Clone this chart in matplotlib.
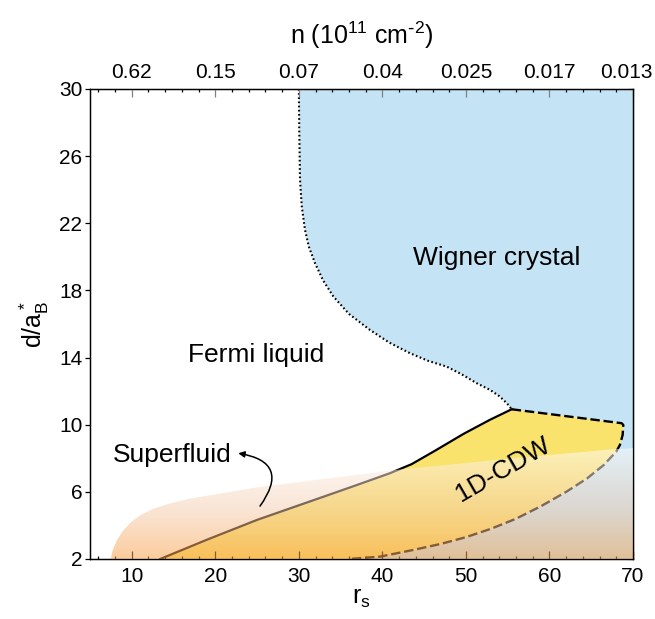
import numpy as np
import matplotlib.pyplot as plt
from matplotlib.patches import Polygon
from matplotlib.ticker import MultipleLocator
from matplotlib.transforms import ScaledTranslation

plt.rcParams['font.family'] = ['Liberation Sans', 'DejaVu Sans']
plt.rcParams['mathtext.default'] = 'regular'

# Fermi liquid / Wigner crystal boundary (dotted), top -> triple point
fw_rs = [30.0, 30.05, 30.14, 30.35, 30.74, 31.2, 31.93, 32.9, 34.13, 36.0, 38.5,
         40.8, 43.3, 45.5, 47.7, 49.5, 51.3, 52.9, 54.0, 54.9, 55.48]
fw_d = [30.0, 27.5, 24.6, 23.0, 21.6, 20.6, 19.63, 18.6, 17.64, 16.6, 15.65,
        14.9, 14.26, 13.8, 13.46, 13.0, 12.47, 12.07, 11.7, 11.28, 10.92]

# Fermi liquid / 1D-CDW boundary (solid), bottom -> triple point
cdw_rs = [13.4, 19.0, 25.0, 33.0, 36.9, 40.9, 43.5, 46.3, 49.7, 52.9, 55.48]
cdw_d = [2.0, 3.15, 4.33, 5.72, 6.4, 7.11, 7.65, 8.45, 9.45, 10.3, 10.92]

# 1D-CDW / Wigner crystal boundary (dashed), triple point -> bottom
wc_rs = [55.48, 68.64, 68.84, 68.76, 68.44, 68.0, 66.5, 64.5, 62.0, 59.0, 56.0,
         53.0, 50.0, 47.0, 43.7, 39.7, 36.0]
wc_d = [10.92, 10.09, 9.99, 9.39, 8.8, 8.4, 7.6, 6.8, 6.0, 5.15, 4.4,
        3.8, 3.3, 2.9, 2.54, 2.14, 2.0]

# upper edge of the superfluid region
sf_rs = [7.5, 7.7, 8.2, 8.9, 9.8, 11.0, 12.5, 14.5, 17.0, 25.0, 40.9, 55.67, 67.6, 70.0]
sf_d = [2.0, 2.5, 3.1, 3.65, 4.15, 4.6, 4.98, 5.3, 5.6, 6.27, 7.27, 8.0, 8.54, 8.6]

top_ticks = [10, 20, 30, 40, 50, 60, 70]
top_labels = ['0.62', '0.15', '0.07', '0.04', '0.025', '0.017', '0.013']

fig = plt.figure(figsize=(6.55, 6.19), dpi=100)
ax = fig.add_axes([90 / 655, 60 / 619, 543 / 655, 470 / 619])

# Wigner crystal
blue_x = fw_rs + wc_rs[1:] + [70, 70]
blue_y = fw_d + wc_d[1:] + [2, 30]
ax.fill(blue_x, blue_y, color='#c4e3f4', lw=0, zorder=1)

# 1D-CDW
cdw_x = cdw_rs + wc_rs[1:]
cdw_y = cdw_d + wc_d[1:]
ax.fill(cdw_x, cdw_y, color='#f9e36c', lw=0, zorder=1)

ax.plot(fw_rs, fw_d, color='k', lw=1.5, ls=(0, (0.8, 1.2)), zorder=2)
ax.plot(cdw_rs, cdw_d, color='k', lw=1.6, zorder=2)
ax.plot(wc_rs, wc_d, color='k', lw=1.7, ls=(0, (4, 1.6)), zorder=2)

# superfluid: translucent vertical gradient on top
ny = 200
yy = np.linspace(2, 8.7, ny)
t = (yy - 2) / (8.7 - 2)
stops = [0, 0.45, 1]
rgba = [(0.98, 0.64, 0.30, 0.55), (0.96, 0.80, 0.68, 0.5), (1, 1, 1, 0.55)]
img = np.zeros((ny, 1, 4))
for k in range(4):
    img[:, 0, k] = np.interp(t, stops, [c[k] for c in rgba])
im = ax.imshow(img, extent=(5, 70, 2, 8.7), origin='lower', aspect='auto',
               interpolation='bilinear', zorder=3)
clip = Polygon(np.column_stack([sf_rs + [70, 7.5], sf_d + [2, 2]]), closed=True,
               transform=ax.transData, fc='none', ec='none')
im.set_clip_path(clip)

fs = 19
ax.text(53.7, 19.95, 'Wigner crystal', fontsize=fs, ha='center', va='center', zorder=5)
ax.text(24.9, 14.16, 'Fermi liquid', fontsize=fs, ha='center', va='center', zorder=5)
ax.text(14.8, 8.2, 'Superfluid', fontsize=fs, ha='center', va='center', zorder=5)
ax.text(54.4, 7.35, '1D-CDW', fontsize=fs, ha='center', va='center', rotation=30, zorder=5)
ax.annotate('', xy=(22.75, 8.3), xytext=(25.35, 5.15),
            arrowprops=dict(arrowstyle='-|>', color='k', lw=1.1, mutation_scale=9,
                            connectionstyle='arc3,rad=0.8', shrinkA=0, shrinkB=0), zorder=5)

ax.set_xlim(5, 70)
ax.set_ylim(2, 30)
ax.set_yticks(np.arange(2, 31, 4))
ax.xaxis.set_major_locator(MultipleLocator(10))
ax.xaxis.set_minor_locator(MultipleLocator(2))
ax.tick_params(axis='x', which='both', direction='in', labelsize=15, pad=6)
ax.tick_params(axis='x', which='major', length=5.5, width=0.9)
ax.tick_params(axis='x', which='minor', length=2.5, width=0.9)
ax.tick_params(axis='y', direction='out', length=3.5, width=0.9, labelsize=15, pad=2)
for s in ax.spines.values():
    s.set_linewidth(1.0)
ax.set_xlabel('r$_s$', fontsize=18, labelpad=0)
ax.set_ylabel('d/a$^*_B$', fontsize=18, labelpad=6)

right = ax.secondary_yaxis('right')
right.set_yticks(np.arange(2, 31, 4))
right.tick_params(direction='in', length=3.5, width=0.9, color='0.45', labelright=False)

top = ax.twiny()
top.set_xlim(5, 70)
top.set_xticks(top_ticks)
top.set_xticklabels(top_labels)
top.xaxis.set_minor_locator(MultipleLocator(2))
top.tick_params(axis='x', which='both', direction='in', labelsize=15, pad=5)
top.tick_params(axis='x', which='major', length=5.5, width=0.9, color='0.5')
top.tick_params(axis='x', which='minor', length=2.5, width=0.9)
top.set_xlabel(r'n (10$^{11}$ cm$^{\text{-}2}$)', fontsize=18, labelpad=14)

# last density label is nudged left so it stays inside the figure
last = top.get_xticklabels()[-1]
last.set_transform(last.get_transform() + ScaledTranslation(-7 / 100, 0, fig.dpi_scale_trans))

fig.savefig('out.png', dpi=100)
